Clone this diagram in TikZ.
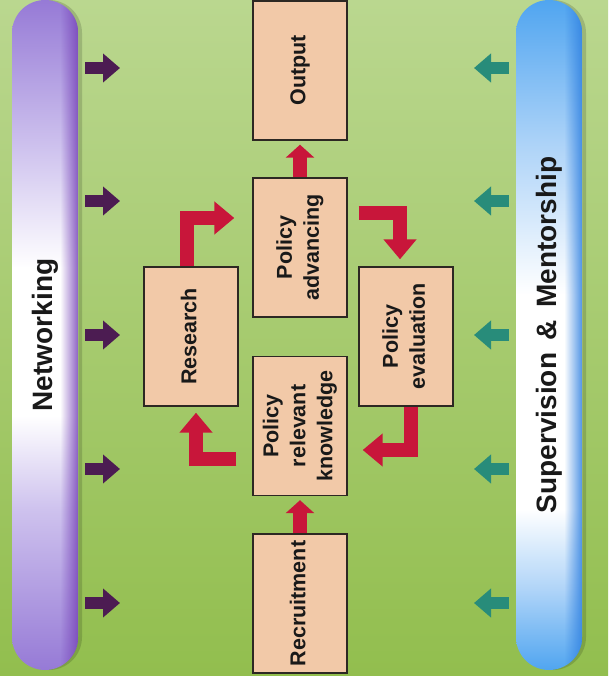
\documentclass[tikz,border=0pt]{standalone}
\usepackage{fontspec}
\setmainfont{Liberation Sans}
\usetikzlibrary{arrows.meta,fadings,shadows}

\definecolor{bgtop}{RGB}{186,215,143}
\definecolor{bgmid}{RGB}{165,203,106}
\definecolor{bgbottom}{RGB}{146,190,78}
\definecolor{boxfill}{RGB}{242,201,168}
\definecolor{boxline}{RGB}{45,40,35}
\definecolor{flowred}{RGB}{200,22,58}
\definecolor{netpurple}{RGB}{150,122,214}
\definecolor{netlight}{RGB}{206,194,238}
\definecolor{netedge}{RGB}{120,70,185}
\definecolor{netdark}{RGB}{76,28,82}
\definecolor{supblue}{RGB}{80,165,240}
\definecolor{suplight}{RGB}{175,212,248}
\definecolor{supedge}{RGB}{50,130,225}
\definecolor{supteal}{RGB}{40,140,122}

\pgfdeclareverticalshading{netshade}{100bp}{color(0bp)=(netpurple); color(25bp)=(netpurple); color(37bp)=(netlight); color(44bp)=(white); color(55bp)=(white); color(64bp)=(netlight); color(75bp)=(netpurple); color(100bp)=(netpurple)}
\pgfdeclareverticalshading{supshade}{100bp}{color(0bp)=(supblue); color(25bp)=(supblue); color(31bp)=(suplight); color(37bp)=(white); color(53bp)=(white); color(64bp)=(suplight); color(75bp)=(supblue); color(100bp)=(supblue)}
\tikzfading[name=edgefade, left color=transparent!100, right color=transparent!15]

\newcommand{\vlabel}[1]{\rotatebox{90}{\begin{tabular}{@{}c@{}}#1\end{tabular}}}

\begin{document}
\begin{tikzpicture}[x=1pt, y=-1pt,
  box/.style={draw=boxline, line width=1.4pt, fill=boxfill, minimum width=94pt, minimum height=139pt, inner sep=0pt, text=black!90, font=\bfseries\fontsize{21.5}{27}\selectfont},
  bar/.style={shade, rounded corners=33pt, minimum width=66pt, minimum height=670pt, inner sep=0pt, text=black!90, font=\bfseries\fontsize{28}{34}\selectfont, drop shadow={shadow xshift=4pt, shadow yshift=0pt, opacity=0.15, fill=black}},
  flow/.style={draw=flowred, line width=14pt, -{Triangle[width=32pt,length=20pt]}},
  lift/.style={draw=flowred, line width=14pt, -{Triangle[width=28pt,length=13pt]}, shorten >=4pt},
  netarrow/.style={draw=netdark, line width=12pt, -{Triangle[width=28pt,length=17pt]}, shorten <=7pt},
  suparrow/.style={draw=supteal, line width=12pt, -{Triangle[width=28pt,length=17pt]}, shorten <=7pt}]

\useasboundingbox (0,0) rectangle (608,676);
\fill[top color=bgtop, middle color=bgmid, bottom color=bgbottom] (0,0) rectangle (608,676);

% side bars
\node[bar, shading=netshade] (net) at (45,335) {\rotatebox{90}{Networking}};
\node[bar, shading=supshade] (sup) at (549,335) {\rotatebox{90}{Supervision \,\&\, Mentorship}};
\begin{scope}
  \clip[rounded corners=33pt] (net.north west) rectangle (net.south east);
  \fill[netedge, path fading=edgefade] ([xshift=-18pt]net.north east) rectangle (net.south east);
\end{scope}
\begin{scope}
  \clip[rounded corners=33pt] (sup.north west) rectangle (sup.south east);
  \fill[supedge, path fading=edgefade] ([xshift=-18pt]sup.north east) rectangle (sup.south east);
\end{scope}

% boxes
\node[box] (output) at (300,70.5) {\vlabel{Output}};
\node[box] (padv) at (300,247.5) {\vlabel{Policy\\advancing}};
\node[box] (research) at (191,336.5) {\vlabel{Research}};
\node[box] (peval) at (406,336.5) {\vlabel{Policy\\evaluation}};
\node[box] (prk) at (300,426) {\vlabel{Policy\\relevant\\knowledge}};
\node[box] (recruit) at (300,603.5) {\vlabel{Recruitment}};

% cycle
\draw[lift] (padv) -- (output);
\draw[lift] (recruit) -- (prk);
\draw[flow] ([xshift=-4pt]research.north) |- ([xshift=-18pt,yshift=29.5pt]padv.west);
\draw[flow] ([xshift=11pt,yshift=34.5pt]padv.east) -| ([xshift=-6pt,yshift=7pt]peval.north);
\draw[flow] ([xshift=5pt]peval.south) |- ([xshift=15pt,yshift=-24pt]prk.east);
\draw[flow] ([xshift=-16pt,yshift=-33pt]prk.west) -| ([xshift=5pt,yshift=-6pt]research.south);

% side arrows
\foreach \y [count=\i] in {68,201,335,469,603} {
  \coordinate (n\i) at (120,\y);
  \coordinate (s\i) at (474,\y);
  \draw[netarrow] (net.east |- n\i) -- (n\i);
  \draw[suparrow] (sup.west |- s\i) -- (s\i);
}
\end{tikzpicture}
\end{document}
